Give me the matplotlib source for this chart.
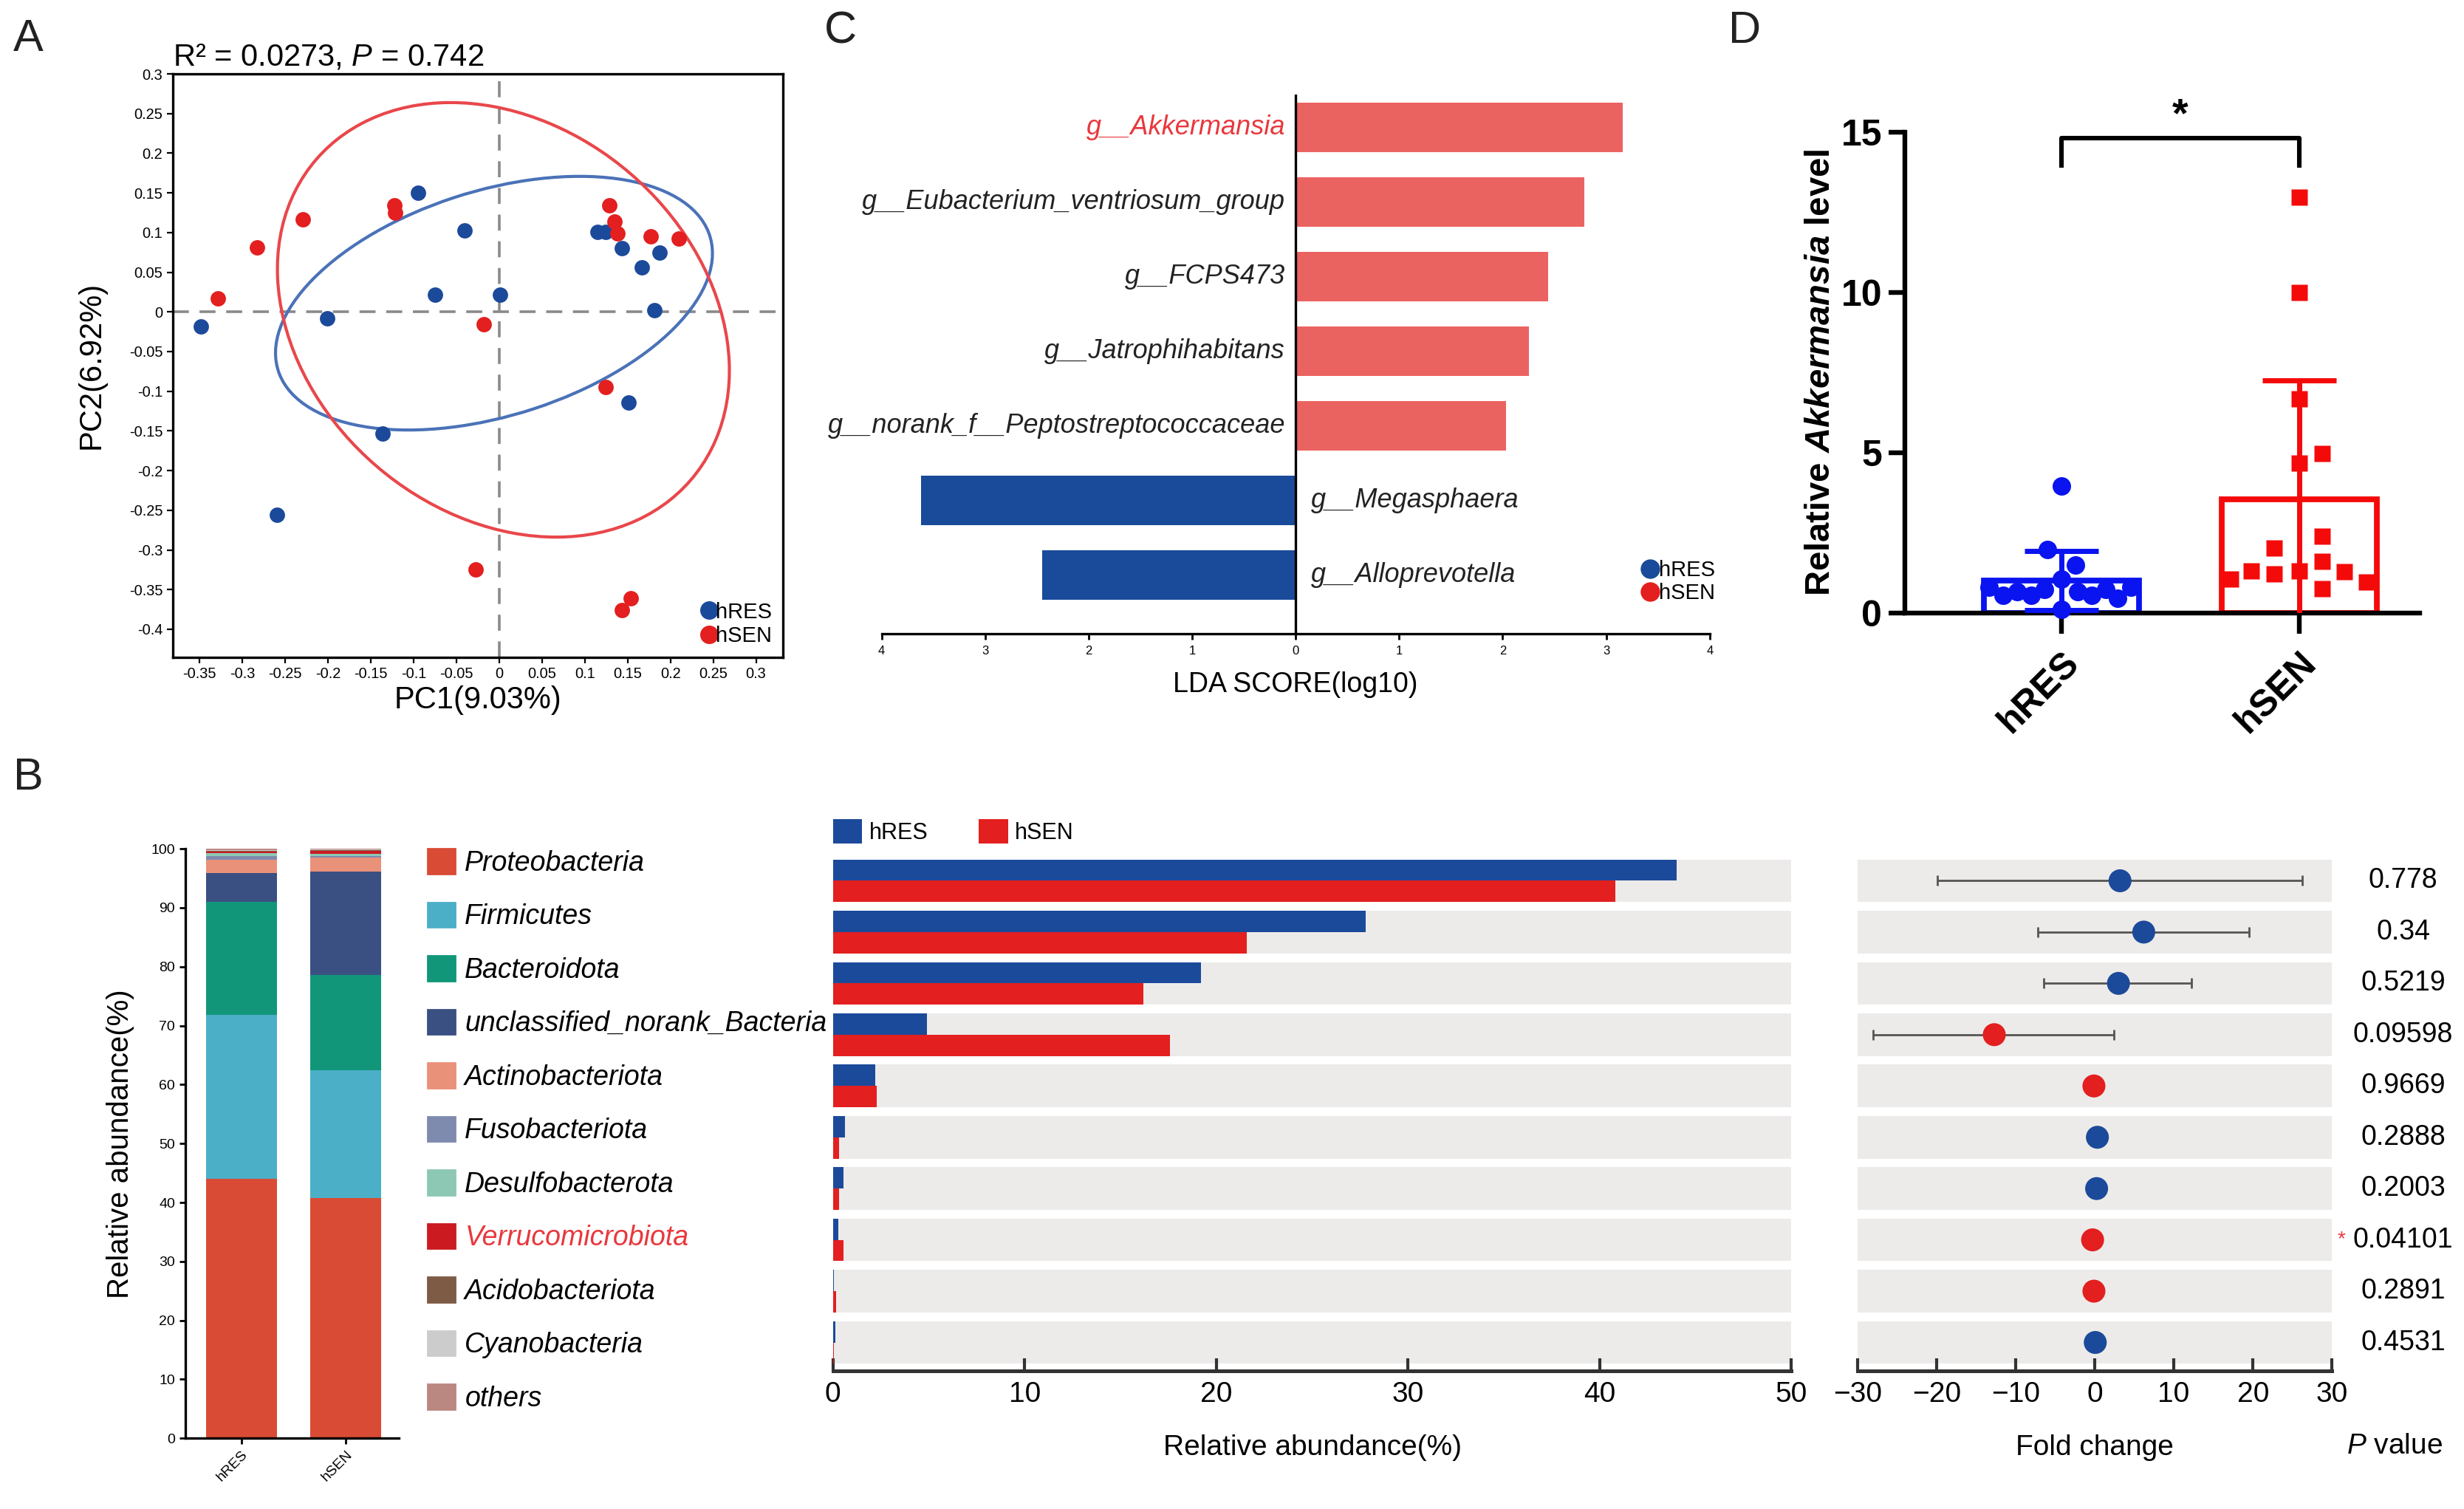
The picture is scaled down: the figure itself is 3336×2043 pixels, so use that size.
import numpy as np
import matplotlib
matplotlib.use('Agg')
import matplotlib.pyplot as plt
from matplotlib.lines import Line2D
from matplotlib.patches import Patch, Ellipse
from matplotlib.ticker import FuncFormatter
import matplotlib.transforms as mtrans

plt.rcParams['font.family'] = ['Liberation Sans', 'DejaVu Sans']
plt.rcParams['mathtext.fontset'] = 'custom'
plt.rcParams['mathtext.rm'] = 'Liberation Sans'
plt.rcParams['mathtext.it'] = 'Liberation Sans:italic'
plt.rcParams['mathtext.bf'] = 'Liberation Sans:bold'
plt.rcParams['mathtext.bfit'] = 'Liberation Sans:bold:italic'

# ---------------- data ----------------
groups = ['hRES', 'hSEN']

# Panel A: PCoA scores
pc1_hres = [-0.348, -0.201, -0.259, -0.095, -0.040, -0.075, 0.001, -0.136,
            0.115, 0.124, 0.143, 0.167, 0.187, 0.181, 0.151]
pc2_hres = [-0.018, -0.008, -0.256, 0.150, 0.103, 0.022, 0.022, -0.153,
            0.101, 0.101, 0.080, 0.056, 0.075, 0.002, -0.114]
pc1_hsen = [-0.328, -0.283, -0.229, -0.122, -0.121, -0.018, 0.129, 0.135,
            0.138, 0.177, 0.210, 0.124, -0.027, 0.154, 0.143]
pc2_hsen = [0.017, 0.081, 0.117, 0.134, 0.125, -0.016, 0.134, 0.114,
            0.099, 0.095, 0.092, -0.095, -0.325, -0.361, -0.376]
# confidence ellipses (centre x, centre y, semi-major, semi-minor, angle deg)
ellipse_hres = (-0.006, 0.011, 0.266, 0.141, 19.5)
ellipse_hsen = (0.005, -0.010, 0.299, 0.235, -49.5)
pcoa_title = r'R² = 0.0273, $\mathit{P}$ = 0.742'

# Panel C: LEfSe
lda_taxa = ['g__Akkermansia', 'g__Eubacterium_ventriosum_group', 'g__FCPS473',
            'g__Jatrophihabitans', 'g__norank_f__Peptostreptococcaceae',
            'g__Megasphaera', 'g__Alloprevotella']
lda_scores = [3.16, 2.79, 2.44, 2.25, 2.03, -3.62, -2.45]
highlight_taxon = 'g__Akkermansia'

# Panel D: Akkermansia level
akk_hres = [3.97, 1.99, 1.50, 1.06, 0.12, 0.80, 0.56, 0.66, 0.56, 0.74,
            0.66, 0.56, 0.74, 0.47, 0.80]
akk_hsen = [12.97, 10.0, 6.69, 4.68, 1.32, 4.97, 2.40, 1.62, 0.76, 2.03,
            1.21, 1.32, 1.06, 1.28, 0.96]
jitter_hres = [0, -0.06, 0.057, 0, 0, -0.306, -0.248, -0.189, -0.13, -0.071,
               0.067, 0.126, 0.185, 0.236, 0.293]
jitter_hsen = [0, 0, 0, 0, 0, 0.098, 0.098, 0.098, 0.098, -0.104, -0.104,
               -0.202, -0.289, 0.19, 0.285]

# Panel B: phylum composition
phyla = ['Proteobacteria', 'Firmicutes', 'Bacteroidota', 'unclassified_norank_Bacteria',
         'Actinobacteriota', 'Fusobacteriota', 'Desulfobacterota', 'Verrucomicrobiota',
         'Acidobacteriota', 'Cyanobacteria']
abund_hres = [44.0, 27.8, 19.2, 4.9, 2.2, 0.65, 0.55, 0.27, 0.07, 0.14]
abund_hsen = [40.8, 21.6, 16.2, 17.6, 2.3, 0.31, 0.31, 0.54, 0.17, 0.07]
highlight_phylum = 'Verrucomicrobiota'
phylum_colors = ['#D94B35', '#4BAFC7', '#12967A', '#3A5082', '#EA9179', '#7E8BAE',
                 '#8CC8B3', '#CB1B20', '#7D5B45', '#CCCCCC', '#BB8781']
fc_ci_low = [-19.9, -7.2, -6.45, -28.0, -0.6, -0.1, -0.2, -0.7, -0.5, -0.2]
fc_ci_high = [26.2, 19.5, 12.2, 2.4, 0.4, 0.8, 0.5, 0.1, 0.2, 0.3]
p_values = ['0.778', '0.34', '0.5219', '0.09598', '0.9669', '0.2888', '0.2003',
            '0.04101', '0.2891', '0.4531']

# ---------------- figure ----------------
fig = plt.figure(figsize=(16.68, 10.215), dpi=200)
W, H = 1568.0, 960.0


def rect(l, t, r, b):
    return [l / W, 1 - b / H, (r - l) / W, (b - t) / H]


BLUE = '#1C4A9B'
RED = '#E31F1F'

for lab, x, y in (('A', 18, 25), ('B', 18, 495), ('C', 535, 20), ('D', 1110, 20)):
    fig.text(x / W, 1 - y / H, lab, fontsize=22, ha='center', va='center', color='#222')

# ---------------- Panel A ----------------
axA = fig.add_axes(rect(110, 47, 498, 418))
axA.set_xlim(-0.381, 0.331)
axA.set_ylim(-0.435, 0.3)
axA.axvline(0, color='#8a8a8a', lw=1.3, ls=(0, (6, 4)), zorder=1)
axA.axhline(0, color='#8a8a8a', lw=1.3, ls=(0, (6, 4)), zorder=1)
for (cx, cy, a, b, ang), col in ((ellipse_hres, '#4A72B8'), (ellipse_hsen, '#E9474B')):
    axA.add_patch(Ellipse((cx, cy), 2 * a, 2 * b, angle=ang, fill=False, ec=col, lw=1.5, zorder=2))
axA.plot(pc1_hres, pc2_hres, 'o', color=BLUE, ms=7.5, mec='none', label=groups[0], zorder=3)
axA.plot(pc1_hsen, pc2_hsen, 'o', color=RED, ms=7.5, mec='none', label=groups[1], zorder=3)


def pfmt(v, p):
    v = round(v, 2)
    if abs(v) < 1e-9:
        return '0'
    return ('%g' % v)


axA.set_xticks(np.round(np.arange(-0.35, 0.301, 0.05), 2))
axA.set_yticks(np.round(np.arange(-0.4, 0.301, 0.05), 2))
axA.xaxis.set_major_formatter(FuncFormatter(pfmt))
axA.yaxis.set_major_formatter(FuncFormatter(pfmt))
axA.tick_params(labelsize=7.2, length=3, width=0.8, pad=2)
for s in axA.spines.values():
    s.set_linewidth(1.2)
axA.set_xlabel('PC1(9.03%)', fontsize=15, labelpad=2)
axA.set_ylabel('PC2(6.92%)', fontsize=15, labelpad=11)
axA.set_title(pcoa_title, loc='left', fontsize=15, pad=4)
axA.legend(loc='lower right', frameon=False, fontsize=10.5, handletextpad=-0.3,
           borderaxespad=0.1, labelspacing=0.15, handlelength=1.2, markerscale=1.2)

# ---------------- Panel C ----------------
axC = fig.add_axes(rect(561, 60, 1088, 403))
nC = len(lda_taxa)
yC = np.arange(nC)[::-1]
colsC = ['#EB6360' if s > 0 else '#1A4A9A' for s in lda_scores]
axC.barh(yC, lda_scores, height=0.665, color=colsC, zorder=2)
axC.set_xlim(-4, 4)
axC.set_ylim(-0.78, nC - 1 + 0.44)
axC.axvline(0, color='black', lw=1.2, zorder=3)
for y, name, s in zip(yC, lda_taxa, lda_scores):
    if s > 0:
        axC.text(-0.1, y, name, ha='right', va='center', style='italic', fontsize=13,
                 color='#E8383D' if name == highlight_taxon else '#222')
    else:
        axC.text(0.15, y, name, ha='left', va='center', style='italic', fontsize=13, color='#222')
for k in ('left', 'right', 'top'):
    axC.spines[k].set_visible(False)
axC.spines['bottom'].set_linewidth(1.2)
axC.set_yticks([])
axC.set_xticks(np.arange(-4, 5, 1))
axC.xaxis.set_major_formatter(FuncFormatter(lambda v, p: '%d' % abs(v)))
axC.tick_params(axis='x', labelsize=6, length=3, width=1, pad=3)
axC.set_xlabel('LDA SCORE(log10)', fontsize=13.5, labelpad=7)
axC.legend(handles=[Line2D([], [], marker='o', ls='none', color='#1A4A9A', ms=8.5),
                    Line2D([], [], marker='o', ls='none', color=RED, ms=8.5)],
           labels=groups, loc='lower right', bbox_to_anchor=(1.03, 0.02), frameon=False,
           fontsize=10.5, handletextpad=-0.2, labelspacing=0.1, handlelength=1.2)

# ---------------- Panel D ----------------
axD = fig.add_axes(rect(1212, 84, 1540, 390))
valsD = [np.array(akk_hres), np.array(akk_hsen)]
jitD = [np.array(jitter_hres), np.array(jitter_hsen)]
colsD = ['#0A14F0', '#F50A0A']
markD = ['o', 's']
msD = [9, 8]
for i in range(2):
    m = valsD[i].mean()
    sd = valsD[i].std(ddof=1)
    axD.bar(i, m, width=0.654, fill=False, edgecolor=colsD[i], lw=2.8, zorder=2)
    axD.errorbar(i, m, yerr=sd, color=colsD[i], capsize=18, elinewidth=2.5, capthick=2.5, zorder=3)
    axD.plot(i + jitD[i], valsD[i], markD[i], color=colsD[i], ms=msD[i], mec='none', zorder=4,
             clip_on=False)
axD.set_xlim(-0.662, 1.51)
axD.set_ylim(0, 15)
axD.set_yticks([0, 5, 10, 15])
axD.set_xticks([0, 1])
axD.set_xticklabels(groups, rotation=45, ha='right', rotation_mode='anchor', fontweight='bold',
                    fontsize=18)
for t in axD.get_yticklabels():
    t.set_fontweight('bold')
axD.tick_params(axis='y', labelsize=18, length=8, width=2.3, pad=3)
axD.tick_params(axis='x', length=10, width=2.3, pad=6)
for k in ('right', 'top'):
    axD.spines[k].set_visible(False)
for k in ('left', 'bottom'):
    axD.spines[k].set_linewidth(2.3)
axD.set_ylabel(r'Relative $\mathbfit{Akkermansia}$ level', fontsize=17, fontweight='bold', labelpad=2)
axD.plot([0, 0, 1, 1], [13.95, 14.8, 14.8, 13.95], color='black', lw=2.2, clip_on=False)
axD.text(0.5, 15.5, '*', ha='center', va='center', fontsize=20, fontweight='bold')

# ---------------- Panel B: stacked ----------------
axS = fig.add_axes(rect(118, 540, 254, 915))
full_hres = abund_hres + [100 - sum(abund_hres)]
full_hsen = abund_hsen + [100 - sum(abund_hsen)]
labels_all = phyla + ['others']
bottoms = np.zeros(2)
for k, name in enumerate(labels_all):
    h = np.array([full_hres[k], full_hsen[k]])
    axS.bar([0, 1], h, bottom=bottoms, width=0.68, color=phylum_colors[k], zorder=2)
    bottoms += h
axS.set_ylim(0, 100)
axS.set_xlim(-0.534, 1.51)
axS.set_yticks(np.arange(0, 101, 10))
axS.set_xticks([0, 1])
axS.set_xticklabels(groups, rotation=45, ha='right', rotation_mode='anchor')
axS.tick_params(labelsize=7, length=3, width=1, pad=2)
for k in ('right', 'top'):
    axS.spines[k].set_visible(False)
for k in ('left', 'bottom'):
    axS.spines[k].set_linewidth(1.2)
axS.set_ylabel('Relative abundance(%)', fontsize=14.5, labelpad=8)
leg = fig.legend(handles=[Patch(color=c) for c in phylum_colors], labels=labels_all,
                 loc='upper left', bbox_to_anchor=(272 / W, 1 - 540 / H), frameon=False,
                 prop={'style': 'italic', 'size': 13.5}, handlelength=1.0, handleheight=1.0,
                 labelspacing=0.93, handletextpad=0.35, borderaxespad=0, borderpad=0)
for t in leg.get_texts():
    if t.get_text() == highlight_phylum:
        t.set_color('#E8383D')

# ---------------- Panel B: bars ----------------
nR = len(phyla)
yR = np.arange(nR)[::-1]
bh = 0.415
BAND = '#EDEBE9'
axM = fig.add_axes(rect(530, 545, 1140, 872))
for y in yR:
    axM.axhspan(y - bh, y + bh, color=BAND, lw=0, zorder=0)
axM.barh(yR + bh / 2, abund_hres, height=bh, color=BLUE, label=groups[0], zorder=2)
axM.barh(yR - bh / 2, abund_hsen, height=bh, color=RED, label=groups[1], zorder=2)
axM.set_xlim(0, 50)
axM.set_ylim(-0.55, nR - 1 + 0.47)
axM.set_yticks([])
axM.set_xticks(np.arange(0, 51, 10))
axM.tick_params(axis='x', direction='in', length=6, width=1.5, labelsize=14, pad=5, color='#333')
for k in ('left', 'right', 'top'):
    axM.spines[k].set_visible(False)
axM.spines['bottom'].set_linewidth(1.8)
axM.spines['bottom'].set_color('#333')
axM.set_xlabel('Relative abundance(%)', fontsize=14, labelpad=13)
axM.legend(loc='lower left', bbox_to_anchor=(-0.013, 1.0), ncol=2, frameon=False, fontsize=11,
           handlelength=1.3, handleheight=1.3, columnspacing=2.25, borderaxespad=0.55,
           handletextpad=0.3, borderpad=0)

axF = fig.add_axes(rect(1182, 545, 1484, 872))
for y in yR:
    axF.axhspan(y - bh, y + bh, color=BAND, lw=0, zorder=0)
fc = np.array(abund_hres) - np.array(abund_hsen)
lo = np.array(fc_ci_low)
hi = np.array(fc_ci_high)
axF.errorbar(fc, yR, xerr=[fc - lo, hi - fc], fmt='none', ecolor='#555555', elinewidth=1.0,
             capsize=2.5, capthick=1.0, zorder=2)
axF.scatter(fc, yR, s=125, c=[BLUE if d > 0 else RED for d in fc], edgecolors='none', zorder=3)
axF.set_xlim(-30, 30)
axF.set_ylim(-0.55, nR - 1 + 0.47)
axF.set_yticks([])
axF.set_xticks(np.arange(-30, 31, 10))
axF.tick_params(axis='x', direction='in', length=6, width=1.5, labelsize=14, pad=5, color='#333')
for k in ('left', 'right', 'top'):
    axF.spines[k].set_visible(False)
axF.spines['bottom'].set_linewidth(1.8)
axF.spines['bottom'].set_color('#333')
axF.set_xlabel('Fold change', fontsize=14, labelpad=13)
trF = mtrans.blended_transform_factory(axF.transAxes, axF.transData)
for y, p in zip(yR, p_values):
    axF.text(1.15, y, p, transform=trF, ha='center', va='center', fontsize=13.5, clip_on=False)
    if float(p) < 0.05:
        axF.text(1.02, y, '*', transform=trF, ha='center', va='center', fontsize=10,
                 color='#E8383D', clip_on=False)
fig.text(1524 / W, 1 - 920 / H, r'$\mathit{P}$ value', ha='center', va='center', fontsize=14)

fig.savefig('out.png', dpi=200)
